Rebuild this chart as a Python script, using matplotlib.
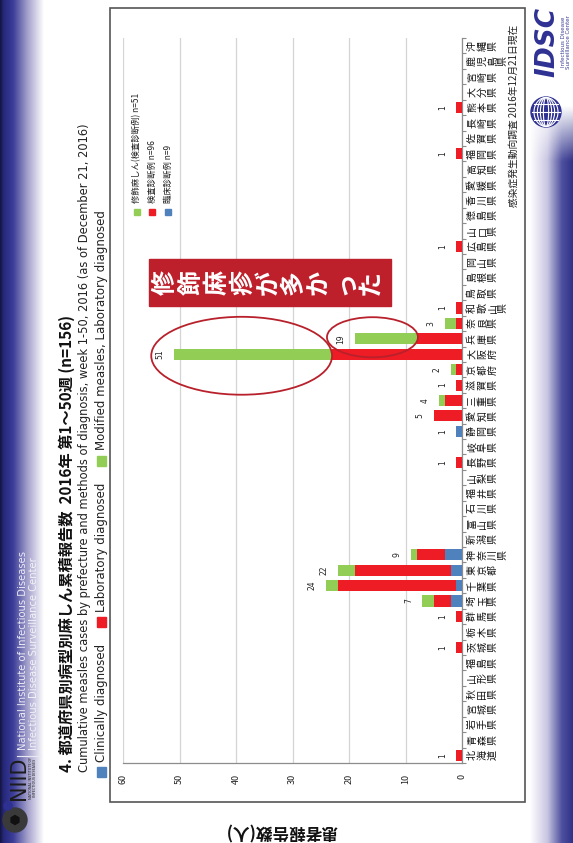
import numpy as np
import matplotlib
matplotlib.use("Agg")
import matplotlib.pyplot as plt
from matplotlib import transforms
from matplotlib.patches import Rectangle, Ellipse, Circle, RegularPolygon
from matplotlib.colors import LinearSegmentedColormap

plt.rcParams['font.family'] = ['Noto Sans CJK JP', 'DejaVu Sans']

# ---- data -------------------------------------------------------------
prefectures = ["北海道", "青森県", "岩手県", "宮城県", "秋田県", "山形県", "福島県",
               "茨城県", "栃木県", "群馬県", "埼玉県", "千葉県", "東京都", "神奈川県",
               "新潟県", "富山県", "石川県", "福井県", "山梨県", "長野県", "岐阜県",
               "静岡県", "愛知県", "三重県", "滋賀県", "京都府", "大阪府", "兵庫県",
               "奈良県", "和歌山県", "鳥取県", "島根県", "岡山県", "広島県", "山口県",
               "徳島県", "香川県", "愛媛県", "高知県", "福岡県", "佐賀県", "長崎県",
               "熊本県", "大分県", "宮崎県", "鹿児島県", "沖縄県"]
clinical = [0, 0, 0, 0, 0, 0, 0, 0, 0, 0,
            2, 1, 2, 3, 0, 0, 0, 0, 0, 0,
            0, 1, 0, 0, 0, 0, 0, 0, 0, 0,
            0, 0, 0, 0, 0, 0, 0, 0, 0, 0,
            0, 0, 0, 0, 0, 0, 0]
laboratory = [1, 0, 0, 0, 0, 0, 0, 1, 0, 1,
              3, 21, 17, 5, 0, 0, 0, 0, 0, 1,
              0, 0, 5, 3, 1, 1, 23, 8, 1, 1,
              0, 0, 0, 1, 0, 0, 0, 0, 0, 1,
              0, 0, 1, 0, 0, 0, 0]
modified = [0, 0, 0, 0, 0, 0, 0, 0, 0, 0,
            2, 2, 3, 1, 0, 0, 0, 0, 0, 0,
            0, 0, 0, 1, 0, 1, 28, 11, 2, 0,
            0, 0, 0, 0, 0, 0, 0, 0, 0, 0,
            0, 0, 0, 0, 0, 0, 0]
value_ticks = [0, 10, 20, 30, 40, 50, 60]

inner_legend = ["修飾麻しん(検査診断例) n=51", "検査診断例 n=96", "臨床診断例 n=9"]
outer_legend = ["Clinically diagnosed", "Laboratory diagnosed",
                "Modified measles, Laboratory diagnosed"]
title = "4. 都道府県別病型別麻しん累積報告数  2016年 第1～50週 (n=156)"
subtitle = ("Cumulative measles cases by prefecture and methods of diagnosis, "
            "week 1-50, 2016 (as of December 21, 2016)")
callout = "修飾麻疹が多かった"
value_label = "患者報告数(人)"
source = "感染症発生動向調査 2016年12月21日現在"

BLUE, RED, GREEN = "#4F81BD", "#EE1C25", "#92CD55"
MARK = "#B8212B"

clin = np.array(clinical)
lab = np.array(laboratory)
mod = np.array(modified)
totals = clin + lab + mod

# ---- figure & axes ----------------------------------------------------
W, H = 573, 843
fig = plt.figure(figsize=(W / 100, H / 100), dpi=100)
fig.patch.set_facecolor("white")


def px_rect(x0, y0, x1, y1):
    return [x0 / W, 1 - y1 / H, (x1 - x0) / W, (y1 - y0) / H]


bg = fig.add_axes([0, 0, 1, 1], zorder=0)
ax = fig.add_axes(px_rect(123, 38, 462, 763), zorder=1)
ax.set_facecolor("none")
fg = fig.add_axes([0, 0, 1, 1], zorder=5)
fg.patch.set_alpha(0)

# ---- side gradients ---------------------------------------------------
left_cmap = LinearSegmentedColormap.from_list(
    "lg", [(0.0, "#14143c"), (0.08, "#25287a"), (0.3, "#3b3d98"),
           (0.62, "#a29ecb"), (1.0, "#ffffff")])
bg.imshow(left_cmap(np.linspace(0, 1, 256))[None, :, :],
          extent=[0, 44, H, 0], aspect="auto", interpolation="bilinear")

right_cmap = LinearSegmentedColormap.from_list(
    "rg", [(0.0, "#ffffff"), (0.4, "#c9c6e2"), (0.75, "#4d4f9e"), (1.0, "#303288")])
ny, nx = 300, 128
rgba = np.tile(right_cmap(np.linspace(0, 1, nx))[None, :, :], (ny, 1, 1))
yy = np.linspace(0, H, ny)
rgba[:, :, 3] = np.clip((yy - 105) / 55, 0, 1)[:, None]
bg.imshow(rgba, extent=[530, W, H, 0], aspect="auto", interpolation="bilinear")
bg.set_xlim(0, W)
bg.set_ylim(H, 0)
bg.axis("off")

# ---- bars -------------------------------------------------------------
y = np.arange(len(prefectures))
bh = 0.72
ax.barh(y, clin, height=bh, color=BLUE, zorder=3)
ax.barh(y, lab, left=clin, height=bh, color=RED, zorder=3)
ax.barh(y, mod, left=clin + lab, height=bh, color=GREEN, zorder=3)

ax.set_xlim(60, 0)
ax.set_ylim(-0.5, len(prefectures) - 0.5)
ax.set_xticks(value_ticks)
ax.set_xticklabels([str(v) for v in value_ticks])
ax.tick_params(axis="x", length=0, pad=8, labelsize=6.5, labelrotation=90,
               colors="#222222")
ax.set_yticks(y)
ax.set_yticklabels([])
ax.yaxis.set_ticks_position("right")
ax.set_yticks(np.arange(-0.5, len(prefectures), 1), minor=True)
ax.tick_params(axis="y", which="major", length=0)
ax.tick_params(axis="y", which="minor", length=3, color="#8c8c8c", width=0.8)
ax.grid(axis="x", color="#d4d4d4", lw=0.9)
ax.set_axisbelow(True)
for s in ("left", "top"):
    ax.spines[s].set_visible(False)
for s in ("right", "bottom"):
    ax.spines[s].set_color("#8c8c8c")
    ax.spines[s].set_linewidth(0.9)

# totals above each stack
for i, t in enumerate(totals):
    if t:
        ax.annotate(str(t), xy=(t, i), xytext=(-14, 0), textcoords="offset pixels",
                    rotation=90, ha="center", va="center", fontsize=5.5,
                    family=["DejaVu Sans"], color="#222222")

# prefecture names, written top-to-bottom then turned with the page
base = ax.get_yaxis_transform()
step = 10.3
for i, name in enumerate(prefectures):
    for k, ch in enumerate(name):
        tr = transforms.offset_copy(base, fig=fig, x=10 + k * step, y=0, units="dots")
        ax.text(1.0, i, ch, transform=tr, rotation=90, ha="center", va="center",
                fontsize=7.2, color="#111111", clip_on=False)

# highlight rings around Osaka / Hyogo modified-measles segments
ax.add_patch(Ellipse((39.0, 25.9), 32.0, 5.05, fill=False, ec=MARK, lw=1.3,
                     clip_on=False, zorder=6))
ax.add_patch(Ellipse((15.85, 27.1), 16.1, 2.6, fill=False, ec=MARK, lw=1.3,
                     clip_on=False, zorder=6))

# ---- overlay (pixel coordinates) --------------------------------------
fg.set_xlim(0, W)
fg.set_ylim(H, 0)
fg.axis("off")

# chart frame
fg.add_patch(Rectangle((110, 8), 415, 794, fill=False, ec="#555555", lw=1.2))

# legend inside the plot
for xc, col, lab_txt in zip((137, 152, 168), (GREEN, RED, BLUE), inner_legend):
    fg.add_patch(Rectangle((xc - 3, 209), 6, 6, color=col))
    fg.text(xc, 203, lab_txt, rotation=90, ha="center", va="bottom", fontsize=6,
            color="#222222")

# callout box
fg.add_patch(Rectangle((149, 259), 242, 47, color="#BD1F2B", zorder=4))
for k, ch in enumerate(callout):
    fg.text(166 + k * 25.6, 282.5, ch, rotation=90, ha="center", va="center",
            fontsize=18, fontweight="bold", color="white", zorder=5)

# titles
fg.text(67, 772, title, rotation=90, ha="center", va="bottom", fontsize=11,
        fontweight="bold", color="#111111")
fg.text(85, 772, subtitle, rotation=90, ha="center", va="bottom", fontsize=8.3,
        family=["DejaVu Sans"], color="#222222")

fig.canvas.draw()
renderer = fig.canvas.get_renderer()
ycur = 777
for col, txt in zip((BLUE, RED, GREEN), outer_legend):
    fg.add_patch(Rectangle((97, ycur - 10), 9, 10, color=col))
    t = fg.text(101.5, ycur - 15, txt, rotation=90, ha="center", va="bottom",
                fontsize=8.5, family=["DejaVu Sans"], color="#222222")
    bb = t.get_window_extent(renderer)
    ycur = ycur - 15 - bb.height - 17

# value axis caption, upside down
fg.text(281, 831, value_label, rotation=180, ha="center", va="center",
        fontsize=12, fontweight="bold", color="#111111")

# data source
fg.text(514, 207, source, rotation=90, ha="center", va="bottom", fontsize=7,
        color="#222222")

# NIID header on the left band
fg.text(23, 750, "National Institute of Infectious Diseases", rotation=90,
        ha="center", va="bottom", fontsize=7.2, color="#ececf6",
        family=["Liberation Sans Narrow", "DejaVu Sans"])
fg.text(34, 750, "Infectious Disease Surveillance Center", rotation=90,
        ha="center", va="bottom", fontsize=7.2, color="#f2f2f8",
        family=["Liberation Sans Narrow", "DejaVu Sans"])
fg.plot([17, 40], [756, 756], color="#e8e8f2", lw=0.8)
fg.text(19, 778, "NIID", rotation=90, ha="center", va="center", fontsize=15,
        color="#1c1c1c", family=["Liberation Sans Narrow", "DejaVu Sans"])
fg.text(33, 778, "NATIONAL INSTITUTE OF\nINFECTIOUS DISEASES", rotation=90,
        ha="center", va="center", fontsize=2.6, color="#1c1c1c", linespacing=1.0)
fg.add_patch(Circle((15, 820), 12, color="#3a3a3a"))
fg.add_patch(RegularPolygon((15, 820), 6, radius=4.5, color="#111111"))
fg.add_patch(Circle((8, 806), 4, color="#2e3192"))

# IDSC mark, top right
gx, gy, gr = 546, 112, 15
fg.add_patch(Circle((gx, gy), gr, color="#2e3192", zorder=3))
for w in (0.35, 0.75, 1.15, 1.6):
    fg.add_patch(Ellipse((gx, gy), gr * w, 2 * gr - 1, fill=False, ec="white",
                         lw=0.8, zorder=4))
for dy in (-8, 0, 8):
    half = np.sqrt(max(gr ** 2 - dy ** 2, 0)) - 1
    fg.plot([gx - half, gx + half], [gy + dy, gy + dy], color="white", lw=0.8,
            zorder=4)
fg.text(547, 42, "IDSC", rotation=90, ha="center", va="center", fontsize=19,
        fontweight="bold", fontstyle="italic", color="#2e3192",
        family=["DejaVu Sans"])
fg.text(566, 42, "Infectious Disease\nSurveillance Center", rotation=90,
        ha="center", va="center", fontsize=4, color="#3a3c94", linespacing=1.0,
        family=["DejaVu Sans"])

fig.savefig("out.png", dpi=100, facecolor="white")
